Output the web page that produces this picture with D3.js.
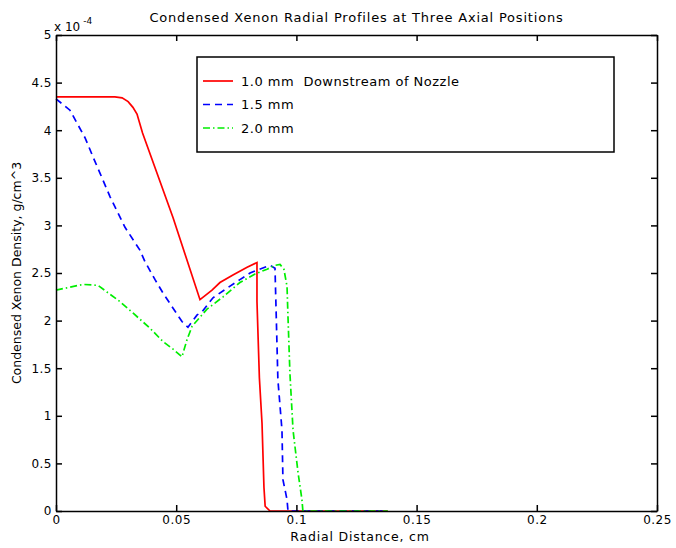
<!DOCTYPE html>
<html>
<head>
<meta charset="utf-8">
<script src="https://cdn.jsdelivr.net/npm/d3@7"></script>
<style>
  body { margin: 0; background: white; }
  text { font-family: "DejaVu Sans", sans-serif; fill: black; }
</style>
</head>
<body>
<div id="chart"></div>
<script>
(function() {

    // radial distance (cm), density in units of 1e-4 g/cm^3
    const red = [
        [0, 4.35], [0.0245, 4.35], [0.0275, 4.34], [0.030, 4.30], [0.032, 4.24],
        [0.0337, 4.17], [0.036, 3.97], [0.0487, 3.08], [0.0599, 2.22],
        [0.0649, 2.32], [0.0682, 2.40], [0.0736, 2.48], [0.0795, 2.56],
        [0.0836, 2.61], [0.0836, 2.2], [0.0846, 1.4], [0.0857, 0.92], [0.0865, 0.25],
        [0.087, 0.05], [0.089, 0], [0.138, 0]
    ];

    const blue = [
        [0, 4.33], [0.0058, 4.21], [0.0121, 3.92], [0.0154, 3.72], [0.0225, 3.30],
        [0.0287, 2.98], [0.0349, 2.74], [0.037, 2.62], [0.0412, 2.43], [0.0445, 2.29],
        [0.0487, 2.13], [0.0524, 1.99], [0.0549, 1.93], [0.0587, 2.06], [0.0607, 2.09],
        [0.0653, 2.24], [0.0711, 2.34], [0.0765, 2.43], [0.0807, 2.50], [0.0878, 2.57],
        [0.089, 2.58], [0.0911, 2.55], [0.0923, 1.38], [0.094, 0.85], [0.0944, 0.33],
        [0.0961, 0.12], [0.0965, 0], [0.138, 0]
    ];

    const green = [
        [0, 2.32], [0.0112, 2.38], [0.0175, 2.37], [0.0212, 2.30], [0.0266, 2.20],
        [0.032, 2.08], [0.0391, 1.92], [0.0445, 1.78], [0.0487, 1.70], [0.0524, 1.62],
        [0.0545, 1.80], [0.0566, 1.94], [0.0628, 2.12], [0.0695, 2.25], [0.0765, 2.40],
        [0.0828, 2.49], [0.0878, 2.54], [0.0911, 2.58], [0.0932, 2.59], [0.0948, 2.54],
        [0.0961, 2.36], [0.0965, 2.04], [0.0973, 1.45], [0.0986, 0.85], [0.1007, 0.40],
        [0.1023, 0.12], [0.1027, 0], [0.138, 0]
    ];

    const xTicks = [0, 0.05, 0.1, 0.15, 0.2, 0.25];
    const yTicks = [0, 0.5, 1, 1.5, 2, 2.5, 3, 3.5, 4, 4.5, 5];

    const series = [
        {name: "1.0 mm  Downstream of Nozzle", values: red, color: "#ff0000", dash: null},
        {name: "1.5 mm", values: blue, color: "#0000ff", dash: "7,5"},
        {name: "2.0 mm", values: green, color: "#00ee00", dash: "7,3,1.5,3"},
    ];

    const width = 676;
    const height = 548;
    const margin = {top: 35, right: 19, bottom: 37, left: 56};

    const svg = d3.select("#chart").append("svg")
        .attr("width", width)
        .attr("height", height);

    svg.append("rect")
        .attr("width", width)
        .attr("height", height)
        .attr("fill", "white");

    const x = d3.scaleLinear()
        .domain([0, 0.25])
        .range([margin.left, width - margin.right]);

    const y = d3.scaleLinear()
        .domain([0, 5])
        .range([height - margin.bottom, margin.top]);

    const line = d3.line()
        .x(d => x(d[0]))
        .y(d => y(d[1]));

    // curves
    svg.append("g")
        .selectAll("path")
        .data(series)
        .join("path")
        .attr("d", d => line(d.values))
        .attr("fill", "none")
        .attr("stroke", d => d.color)
        .attr("stroke-width", 1.7)
        .attr("stroke-dasharray", d => d.dash);

    // axes (ticks point inward, like matlab)
    const fmt = d => String(d);

    svg.append("g")
        .attr("transform", `translate(0,${height - margin.bottom})`)
        .call(d3.axisBottom(x).tickValues(xTicks).tickFormat(fmt).tickSize(-6).tickSizeOuter(0).tickPadding(4))
        .attr("font-size", "12px")
        .attr("font-family", "DejaVu Sans")
        .attr("letter-spacing", "0.5px");

    svg.append("g")
        .attr("transform", `translate(${margin.left},0)`)
        .call(d3.axisLeft(y).tickValues(yTicks).tickFormat(fmt).tickSize(-6).tickSizeOuter(0).tickPadding(4))
        .attr("font-size", "12px")
        .attr("font-family", "DejaVu Sans")
        .attr("letter-spacing", "0.5px");

    svg.append("g")
        .attr("transform", `translate(0,${margin.top})`)
        .call(d3.axisTop(x).tickValues(xTicks).tickFormat("").tickSize(-6).tickSizeOuter(0));

    svg.append("g")
        .attr("transform", `translate(${width - margin.right},0)`)
        .call(d3.axisRight(y).tickValues(yTicks).tickFormat("").tickSize(-6).tickSizeOuter(0));

    svg.selectAll(".domain, .tick line")
        .attr("stroke", "black")
        .attr("stroke-width", 1.5);

    // exponent
    const expo = svg.append("text")
        .attr("x", margin.left - 2)
        .attr("y", margin.top - 4)
        .attr("font-size", "12px");
    expo.append("tspan").text("x 10");
    expo.append("tspan").attr("dx", 3).attr("dy", -7).attr("font-size", "9px").text("-4");

    // title and axis labels
    svg.append("text")
        .attr("x", (margin.left + width - margin.right) / 2)
        .attr("y", 22)
        .attr("text-anchor", "middle")
        .attr("font-size", "13px")
        .attr("letter-spacing", "0.8px")
        .text("Condensed Xenon Radial Profiles at Three Axial Positions");

    svg.append("text")
        .attr("x", 360)
        .attr("y", 541)
        .attr("text-anchor", "middle")
        .attr("font-size", "12.5px")
        .attr("letter-spacing", "0.8px")
        .text("Radial Distance, cm");

    svg.append("text")
        .attr("transform", `translate(21,${(margin.top + height - margin.bottom) / 2}) rotate(-90)`)
        .attr("text-anchor", "middle")
        .attr("font-size", "12.5px")
        .text("Condensed Xenon Density, g/cm^3");

    // legend
    const legend = svg.append("g");
    legend.append("rect")
        .attr("x", 197)
        .attr("y", 57)
        .attr("width", 417)
        .attr("height", 95)
        .attr("fill", "white")
        .attr("stroke", "black")
        .attr("stroke-width", 1.5);

    const rows = legend.selectAll("g.row")
        .data(series)
        .join("g")
        .attr("class", "row")
        .attr("transform", (d, i) => `translate(203,${81 + i * 23.5})`);

    rows.append("line")
        .attr("x1", 0)
        .attr("x2", 30)
        .attr("stroke", d => d.color)
        .attr("stroke-width", 1.7)
        .attr("stroke-dasharray", d => d.dash);

    rows.append("text")
        .attr("x", 38)
        .attr("dy", "0.35em")
        .attr("font-size", "13px")
        .attr("letter-spacing", "0.5px")
        .style("white-space", "pre")
        .text(d => d.name);

})();
</script>
</body>
</html>
